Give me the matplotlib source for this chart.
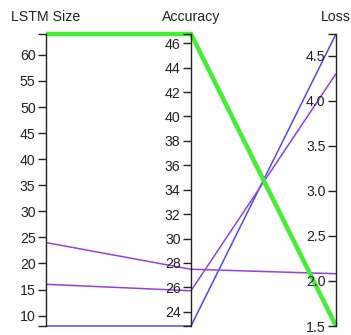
import matplotlib
matplotlib.use("Agg")
import matplotlib.pyplot as plt
from matplotlib.ticker import FixedLocator, FormatStrFormatter

plt.rcParams['font.family'] = ['Liberation Sans', 'DejaVu Sans']

# Dimensions of the parallel-coordinates plot
dimensions = ["LSTM Size", "Accuracy", "Loss"]

# One record per run
lstm_size = [64, 8, 16, 24]
accuracy = [46.76, 22.83, 25.72, 27.48]
loss = [1.50, 4.74, 4.30, 2.08]
line_colors = ["#44ee33", "#4b4bee", "#9440e0", "#9440e0"]
line_widths = [3.2, 1.1, 1.1, 1.1]

# Tick values per dimension
lstm_ticks = [10, 15, 20, 25, 30, 35, 40, 45, 50, 55, 60]
acc_ticks = [24, 26, 28, 30, 32, 34, 36, 38, 40, 42, 44, 46]
loss_ticks = [1.5, 2.0, 2.5, 3.0, 3.5, 4.0, 4.5]

columns = [lstm_size, accuracy, loss]
tick_sets = [lstm_ticks, acc_ticks, loss_ticks]
formats = ["%d", "%d", "%.1f"]

W, H, DPI = 351, 335, 100
fig = plt.figure(figsize=(W / DPI, H / DPI), dpi=DPI)

x_px = [46, 191, 336]
top_px, bot_px = 34, 326
left = x_px[0] / W
right = x_px[-1] / W
bottom = (H - bot_px) / H
top = (H - top_px) / H

# Line layer, normalised per dimension
ax = fig.add_axes([left, bottom, right - left, top - bottom])
ax.set_xlim(0, len(dimensions) - 1)
ax.set_ylim(0, 1)
ax.axis("off")

ranges = [(min(c), max(c)) for c in columns]
for i in range(len(lstm_size)):
    ys = [(col[i] - lo) / (hi - lo) for col, (lo, hi) in zip(columns, ranges)]
    ax.plot(range(len(dimensions)), ys, color=line_colors[i], lw=line_widths[i],
            solid_capstyle="butt", solid_joinstyle="miter", zorder=3 if i == 0 else 2,
            clip_on=False)

# One vertical axis per dimension
axis_color = "#222222"
for k, name in enumerate(dimensions):
    lo, hi = ranges[k]
    a = fig.add_axes([x_px[k] / W, bottom, 1e-4, top - bottom], zorder=1)
    a.patch.set_visible(False)
    for s in ("top", "right", "bottom"):
        a.spines[s].set_visible(False)
    a.spines["left"].set_color(axis_color)
    a.spines["left"].set_linewidth(1.0)
    a.set_ylim(lo, hi)
    a.set_xticks([])
    a.yaxis.set_major_locator(FixedLocator(tick_sets[k]))
    a.yaxis.set_major_formatter(FormatStrFormatter(formats[k]))
    a.yaxis.set_minor_locator(FixedLocator([lo, hi]))
    a.tick_params(axis="y", which="both", direction="out", length=5.5, width=1.0,
                  color=axis_color, labelsize=10.2, labelcolor="#222222", pad=2)
    fig.text(x_px[k] / W, (H - 17) / H, name, ha="center", va="center",
             fontsize=10.2, color="#222222")

fig.savefig("out.png", dpi=DPI, facecolor="white")
